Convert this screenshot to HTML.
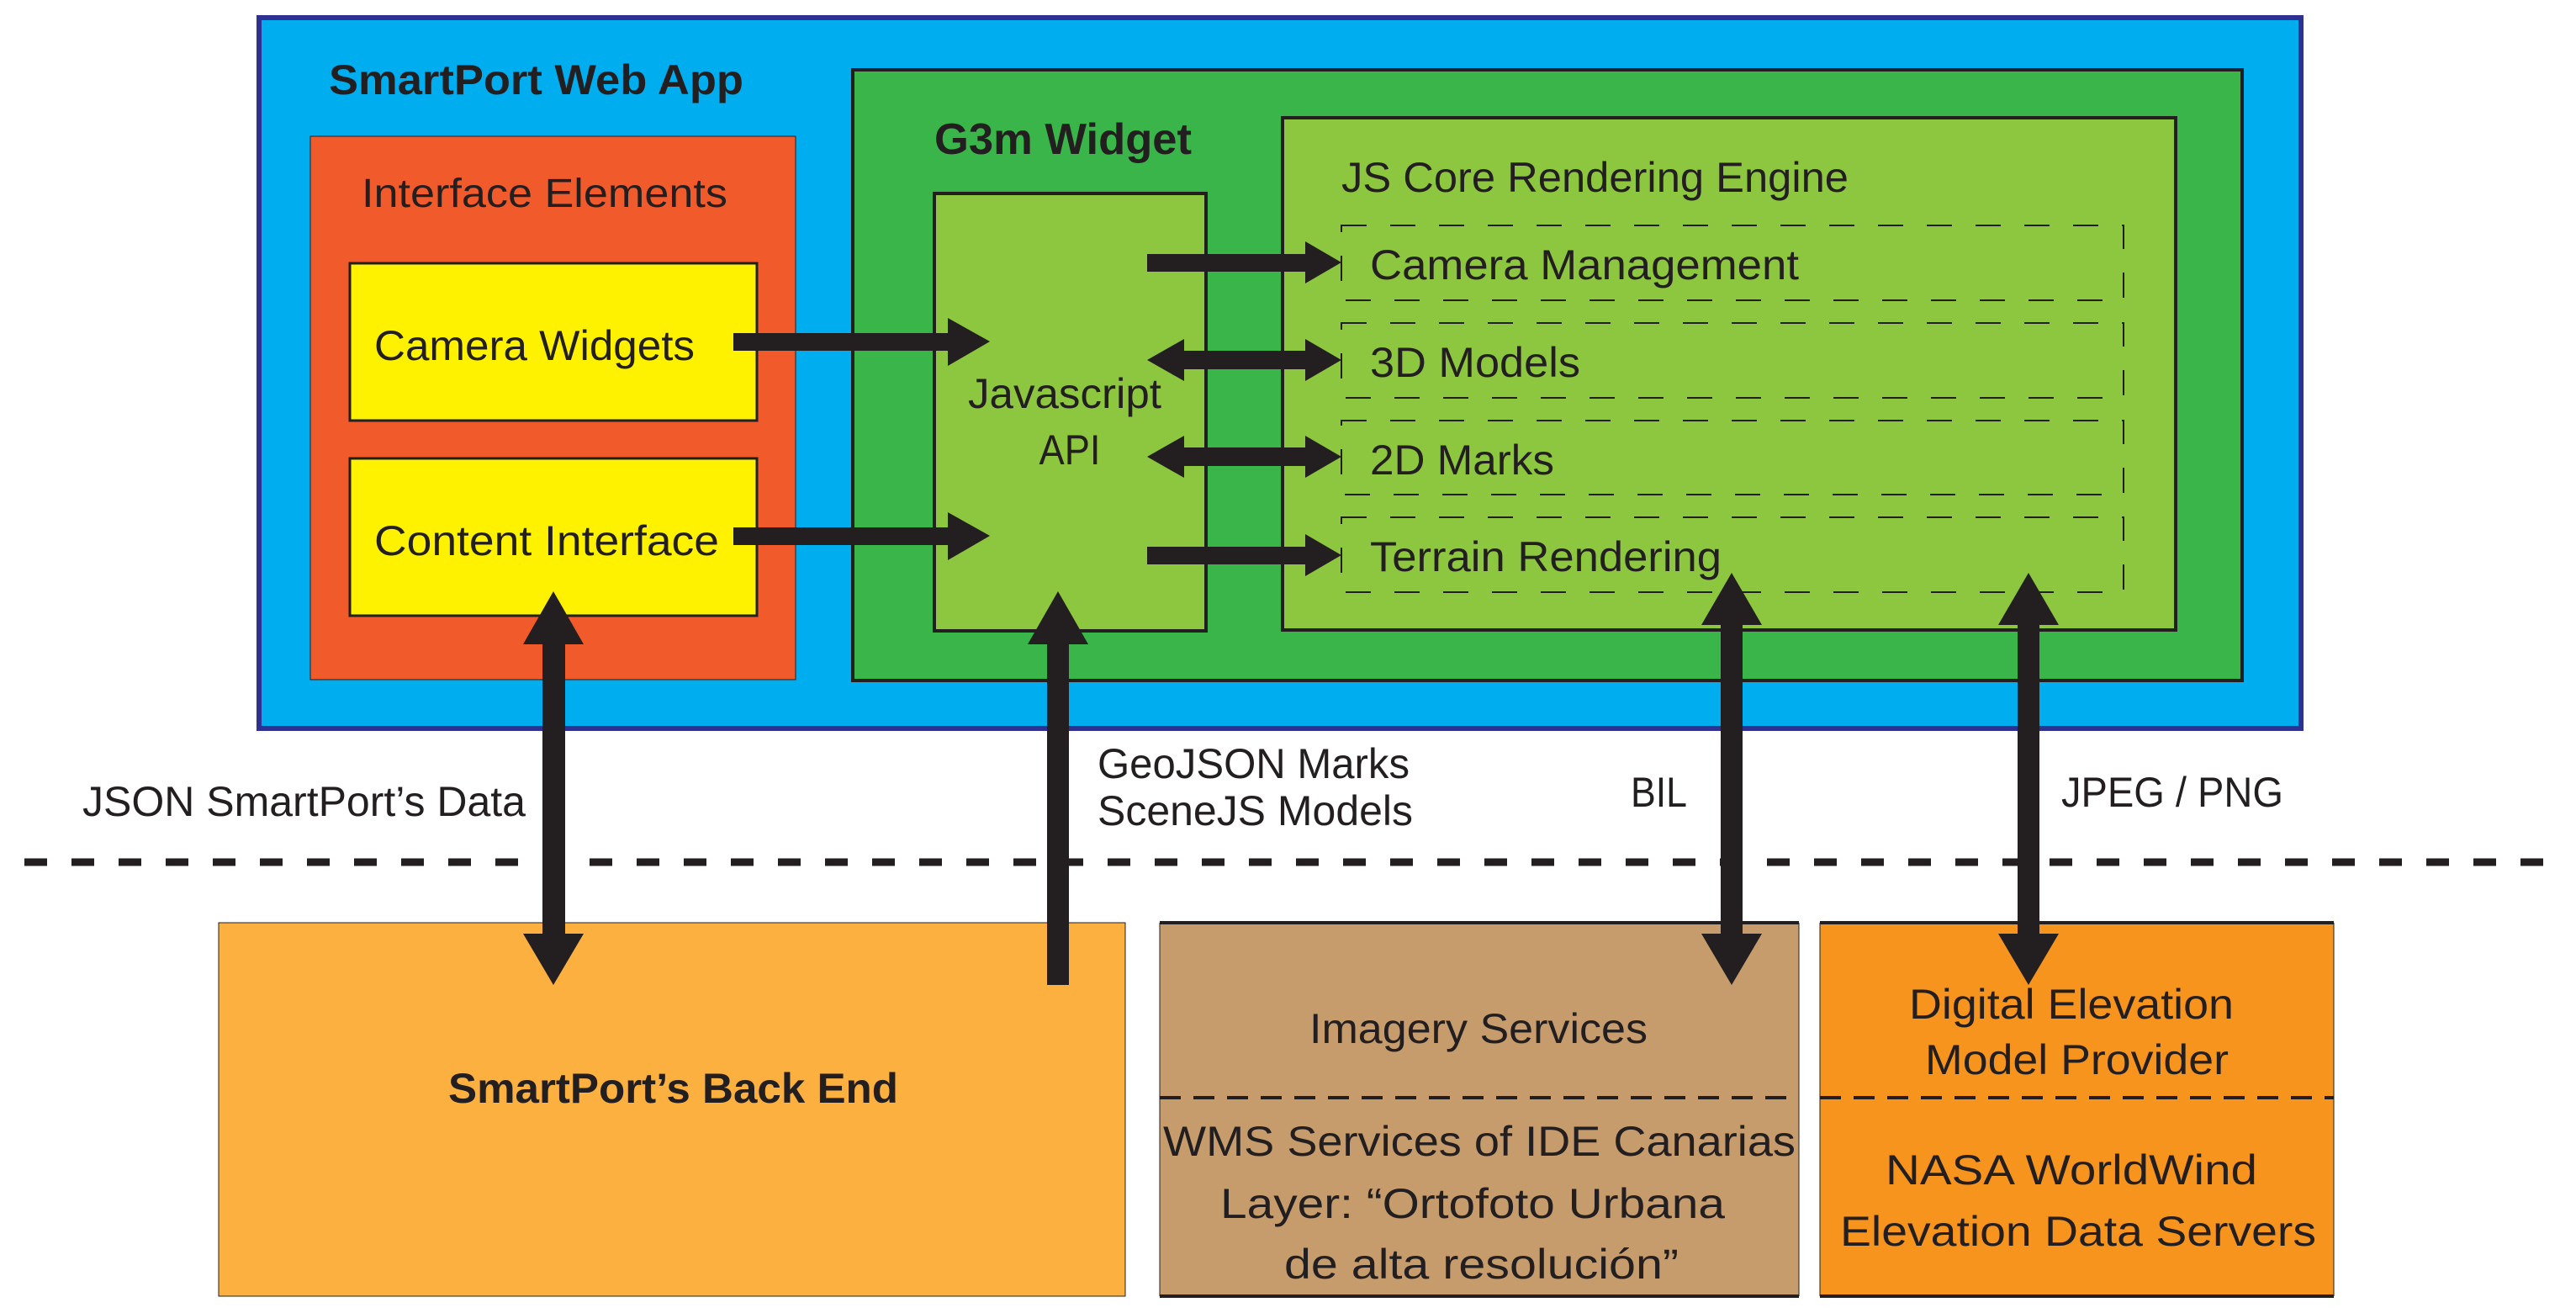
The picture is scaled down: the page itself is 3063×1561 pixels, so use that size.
<!DOCTYPE html>
<html><head><meta charset="utf-8"><style>
html,body{margin:0;padding:0;background:#fff;}
svg{display:block;}
text{font-family:"Liberation Sans Narrow","Liberation Sans",sans-serif;fill:#231f20;}
.b{font-weight:bold;}
</style></head><body>
<svg width="3063" height="1561" viewBox="0 0 3063 1561" xmlns="http://www.w3.org/2000/svg">
<rect x="308" y="21" width="2428" height="845" fill="#00aeef" stroke="#2e3192" stroke-width="6"/>
<text class="b" x="391" y="112" font-size="50" textLength="493" lengthAdjust="spacingAndGlyphs">SmartPort Web App</text>
<rect x="369" y="162" width="577" height="646" fill="#f15a2b" stroke="#231f20" stroke-width="1"/>
<text x="430" y="246" font-size="48" textLength="435" lengthAdjust="spacingAndGlyphs">Interface Elements</text>
<rect x="416" y="313" width="484" height="187" fill="#fff200" stroke="#231f20" stroke-width="3"/>
<text x="445" y="428" font-size="50" textLength="381" lengthAdjust="spacingAndGlyphs">Camera Widgets</text>
<rect x="416" y="545" width="484" height="187" fill="#fff200" stroke="#231f20" stroke-width="3"/>
<text x="445" y="660" font-size="50" textLength="410" lengthAdjust="spacingAndGlyphs">Content Interface</text>
<rect x="1014" y="83" width="1652" height="726" fill="#39b54a" stroke="#231f20" stroke-width="4"/>
<text class="b" x="1111" y="183" font-size="52" textLength="306" lengthAdjust="spacingAndGlyphs">G3m Widget</text>
<rect x="1111" y="230" width="323" height="520" fill="#8dc63f" stroke="#231f20" stroke-width="4"/>
<text x="1266" y="485" font-size="50" text-anchor="middle" textLength="230" lengthAdjust="spacingAndGlyphs">Javascript</text>
<text x="1272" y="552" font-size="50" text-anchor="middle" textLength="73" lengthAdjust="spacingAndGlyphs">API</text>
<rect x="1525" y="140" width="1062" height="609" fill="#8dc63f" stroke="#231f20" stroke-width="4"/>
<text x="1595" y="228" font-size="50" textLength="603" lengthAdjust="spacingAndGlyphs">JS Core Rendering Engine</text>
<g fill="none" stroke="#231f20" stroke-width="2" stroke-dasharray="30 28">
<rect x="1595" y="268" width="930" height="89"/>
<rect x="1595" y="384" width="930" height="89"/>
<rect x="1595" y="500" width="930" height="88"/>
<rect x="1595" y="615" width="930" height="89"/>
</g>
<text x="1629" y="332" font-size="50" textLength="510" lengthAdjust="spacingAndGlyphs">Camera Management</text>
<text x="1629" y="448" font-size="50" textLength="250" lengthAdjust="spacingAndGlyphs">3D Models</text>
<text x="1629" y="564" font-size="50" textLength="219" lengthAdjust="spacingAndGlyphs">2D Marks</text>
<text x="1629" y="679" font-size="50" textLength="418" lengthAdjust="spacingAndGlyphs">Terrain Rendering</text>
<g fill="#231f20">
<polygon points="872,396 1127,396 1127,378 1177,406 1127,435 1127,417 872,417"/>
<polygon points="872,627 1127,627 1127,609 1177,637 1127,666 1127,648 872,648"/>
<polygon points="1364,302 1552,302 1552,287 1595,312 1552,337 1552,323 1364,323"/>
<polygon points="1364,650 1552,650 1552,635 1595,660 1552,685 1552,671 1364,671"/>
<polygon points="1364,428 1408,403 1408,417 1552,417 1552,403 1595,428 1552,453 1552,439 1408,439 1408,453"/>
<polygon points="1364,543 1408,518 1408,532 1552,532 1552,518 1595,543 1552,568 1552,554 1408,554 1408,568"/>
</g>
<line x1="29" y1="1025" x2="3030" y2="1025" stroke="#231f20" stroke-width="9" stroke-dasharray="27 29"/>
<rect x="260" y="1097" width="1078" height="444" fill="#fbb040" stroke="#231f20" stroke-width="1"/>
<text class="b" x="533" y="1311" font-size="50" textLength="535" lengthAdjust="spacingAndGlyphs">SmartPort’s Back End</text>
<rect x="1379" y="1097" width="760" height="444" fill="#c69c6d"/>
<line x1="1379" y1="1097" x2="2139" y2="1097" stroke="#231f20" stroke-width="4"/>
<line x1="1379" y1="1541" x2="2139" y2="1541" stroke="#231f20" stroke-width="4"/>
<line x1="1379" y1="1097" x2="1379" y2="1541" stroke="#231f20" stroke-width="1"/>
<line x1="2139" y1="1097" x2="2139" y2="1541" stroke="#231f20" stroke-width="1"/>
<rect x="2164" y="1097" width="611" height="444" fill="#f7941d"/>
<line x1="2164" y1="1097" x2="2775" y2="1097" stroke="#231f20" stroke-width="4"/>
<line x1="2164" y1="1541" x2="2775" y2="1541" stroke="#231f20" stroke-width="4"/>
<line x1="2164" y1="1097" x2="2164" y2="1541" stroke="#231f20" stroke-width="1"/>
<line x1="2775" y1="1097" x2="2775" y2="1541" stroke="#231f20" stroke-width="1"/>
<line x1="1379" y1="1305" x2="2139" y2="1305" stroke="#231f20" stroke-width="4" stroke-dasharray="25 15"/>
<line x1="2164" y1="1305" x2="2775" y2="1305" stroke="#231f20" stroke-width="4" stroke-dasharray="25 15"/>
<text x="1557" y="1240" font-size="50" textLength="402" lengthAdjust="spacingAndGlyphs">Imagery Services</text>
<text x="1383" y="1374" font-size="50" textLength="752" lengthAdjust="spacingAndGlyphs">WMS Services of IDE Canarias</text>
<text x="1451" y="1448" font-size="50" textLength="600" lengthAdjust="spacingAndGlyphs">Layer: “Ortofoto Urbana</text>
<text x="1527" y="1520" font-size="50" textLength="469" lengthAdjust="spacingAndGlyphs">de alta resolución”</text>
<text x="2270" y="1211" font-size="50" textLength="386" lengthAdjust="spacingAndGlyphs">Digital Elevation</text>
<text x="2289" y="1277" font-size="50" textLength="361" lengthAdjust="spacingAndGlyphs">Model Provider</text>
<text x="2242" y="1408" font-size="50" textLength="442" lengthAdjust="spacingAndGlyphs">NASA WorldWind</text>
<text x="2188" y="1481" font-size="50" textLength="566" lengthAdjust="spacingAndGlyphs">Elevation Data Servers</text>
<text x="98" y="970" font-size="50" textLength="527" lengthAdjust="spacingAndGlyphs">JSON SmartPort’s Data</text>
<text x="1305" y="925" font-size="50" textLength="371" lengthAdjust="spacingAndGlyphs">GeoJSON Marks</text>
<text x="1305" y="981" font-size="50" textLength="375" lengthAdjust="spacingAndGlyphs">SceneJS Models</text>
<text x="1939" y="959" font-size="50" textLength="67" lengthAdjust="spacingAndGlyphs">BIL</text>
<text x="2451" y="959" font-size="50" textLength="264" lengthAdjust="spacingAndGlyphs">JPEG / PNG</text>
<g fill="#231f20">
<polygon points="658,703 694,766 672,766 672,1110 694,1110 658,1171 622,1110 645,1110 645,766 622,766"/>
<polygon points="1258,703 1294,766 1271,766 1271,1171 1245,1171 1245,766 1222,766"/>
<polygon points="2059,681 2095,743 2072,743 2072,1110 2095,1110 2059,1171 2023,1110 2046,1110 2046,743 2023,743"/>
<polygon points="2412,681 2448,743 2425,743 2425,1110 2448,1110 2412,1171 2376,1110 2399,1110 2399,743 2376,743"/>
</g>
</svg>
</body></html>
